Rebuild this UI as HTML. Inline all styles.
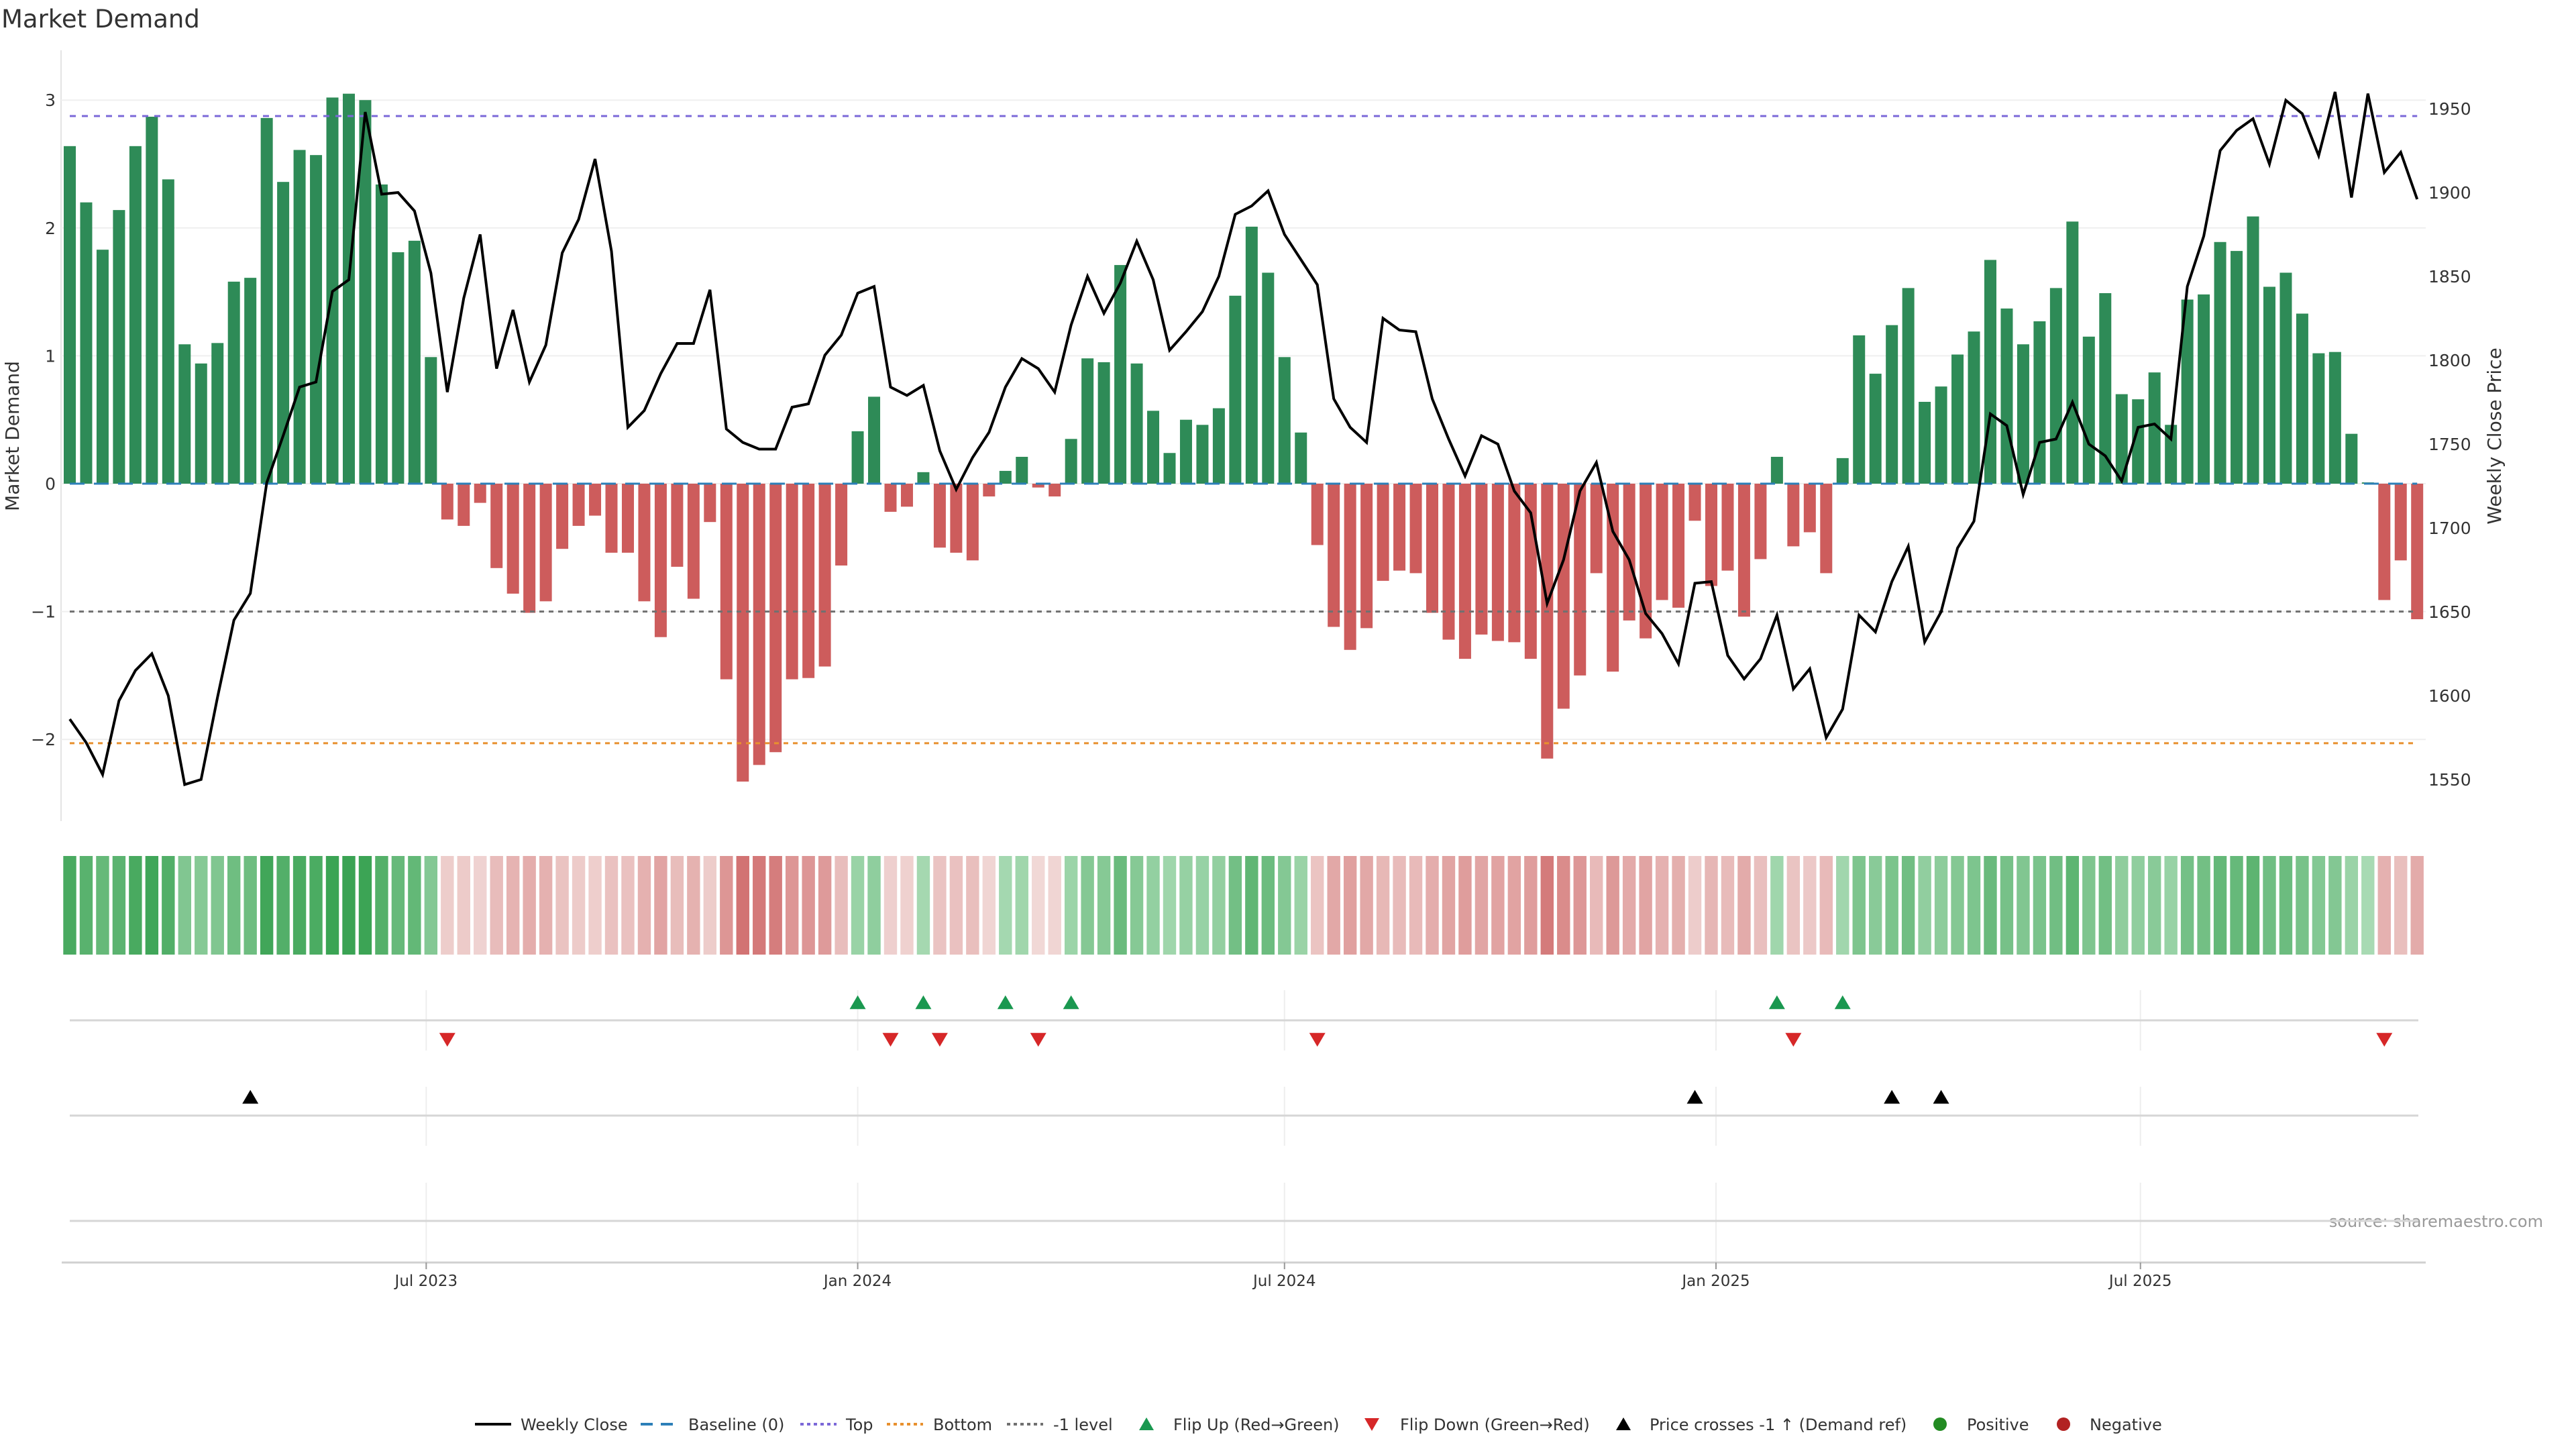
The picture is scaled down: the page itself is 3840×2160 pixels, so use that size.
<!DOCTYPE html>
<html><head><meta charset="utf-8"><style>
html,body{margin:0;padding:0;background:#fff;}
svg{display:block;font-family:"DejaVu Sans","Liberation Sans",sans-serif;}
</style></head><body>
<svg id="chart" width="3840" height="2160" viewBox="0 0 3840 2160" xmlns="http://www.w3.org/2000/svg">
<text x="2" y="41" font-size="37" fill="#333">Market Demand</text>
<text transform="translate(28,650) rotate(-90)" font-size="28" fill="#333" text-anchor="middle">Market Demand</text>
<text transform="translate(3728,650) rotate(-90)" font-size="28" fill="#333" text-anchor="middle">Weekly Close Price</text>
<text x="3791" y="1829" font-size="24" fill="#999" text-anchor="end">source: sharemaestro.com</text>
<g id="main"></g>
<g id="heat"></g>
<g id="markers"></g>
<g id="xaxis"></g>
<g id="legend"></g>
</svg>
<script>
const demand = [2.64,2.2,1.83,2.14,2.64,2.87,2.38,1.09,0.94,1.1,1.58,1.61,2.86,2.36,2.61,2.57,3.02,3.05,3.0,2.34,1.81,1.9,0.99,
-0.28,-0.33,-0.15,-0.66,-0.86,-1.01,-0.92,-0.51,-0.33,-0.25,-0.54,-0.54,-0.92,-1.2,-0.65,-0.9,-0.3,-1.53,-2.33,-2.2,-2.1,-1.53,-1.52,-1.43,-0.64,
0.41,0.68,-0.22,-0.18,0.09,-0.5,-0.54,-0.6,-0.1,0.1,0.21,-0.03,-0.1,0.35,0.98,0.95,1.71,0.94,0.57,0.24,0.5,0.46,0.59,1.47,2.01,1.65,0.99,0.4,
-0.48,-1.12,-1.3,-1.13,-0.76,-0.68,-0.7,-1.01,-1.22,-1.37,-1.18,-1.23,-1.24,-1.37,-2.15,-1.76,-1.5,-0.7,-1.47,-1.07,-1.21,-0.91,-0.97,-0.29,-0.8,-0.68,-1.04,-0.59,
0.21,-0.49,-0.38,-0.7,0.2,1.16,0.86,1.24,1.53,0.64,0.76,1.01,1.19,1.75,1.37,1.09,1.27,1.53,2.05,1.15,1.49,0.7,0.66,0.87,0.46,1.44,1.48,1.89,1.82,2.09,1.54,1.65,1.33,1.02,1.03,0.39,0.01,-0.91,-0.6,-1.06];
const price = [1586,1572,1553,1597,1615,1625,1600,1547,1550,1599,1645,1661,1727,1755,1784,1787,1841,1848,1948,1899,1900,1889,1852,1781,1837,1875,1795,1830,1787,1809,1864,1884,1920,1865,1760,1770,1792,1810,1810,1842,1759,1751,1747,1747,1772,1774,1803,1815,1840,1844,1784,1779,1785,1746,1723,1742,1757,1784,1801,1795,1781,1821,1850,1828,1846,1871,1848,1806,1817,1829,1850,1887,1892,1901,1875,1860,1845,1777,1760,1751,1825,1818,1817,1777,1753,1731,1755,1750,1722,1709,1655,1681,1722,1739,1698,1681,1649,1637,1619,1667,1668,1624,1610,1622,1648,1604,1616,1575,1592,1648,1638,1668,1689,1632,1650,1688,1704,1768,1761,1720,1751,1753,1775,1750,1743,1728,1760,1762,1753,1844,1874,1925,1937,1944,1917,1955,1947,1922,1960,1897,1959,1912,1924,1896];
const priceCrossIdx = [11,99,111,114];
const leftTicks = [3,2,1,0,-1,-2];
const rightTicks = [1550,1600,1650,1700,1750,1800,1850,1900,1950];
const xTickLabels = ["Jul 2023","Jan 2024","Jul 2024","Jan 2025","Jul 2025"];
const xTickDates = ["2023-07-01","2024-01-01","2024-07-01","2025-01-01","2025-07-01"];
const levelTop = 2.875, levelBottom = -2.03, levelMinus1 = -1;
const startDate = "2023-01-30";

const NS="http://www.w3.org/2000/svg";
function mk(tag, attrs, parent){const e=document.createElementNS(NS,tag);for(const k in attrs)e.setAttribute(k,attrs[k]);parent.appendChild(e);return e;}
const X0=104, DX=24.47;
const xi = i => X0 + DX*i;
const xDate = d => X0 + DX*((new Date(d) - new Date(startDate))/(7*86400000));
const yL = v => 721 - v*190.6;
const yR = p => 162 + (1950-p)*2.5;
const PL=91, PR=3616, PT=75, PB=1224;

const main=document.getElementById('main');
let sp=mk('line',{x1:PL,y1:PT,x2:PL,y2:PB,stroke:'#e4e4e4','stroke-width':2},main);


leftTicks.forEach(t=>{
  const g=mk('line',{x1:PL,x2:PR,y1:yL(t),y2:yL(t),stroke:'#efefef','stroke-width':2},main);
  
  
  const tx=mk('text',{x:83,y:yL(t)+9,'font-size':25,fill:'#333','text-anchor':'end'},main);
  tx.textContent = t<0 ? '\u2212'+Math.abs(t) : String(t);
  
  
});
rightTicks.forEach(t=>{
  const tx=mk('text',{x:3620,y:yR(t)+9,'font-size':25,fill:'#333'},main);
  tx.textContent=String(t);
  
  
});
demand.forEach((v,i)=>{
  const y0=yL(0), y1=yL(v);
  const r=mk('rect',{x:xi(i)-9,y:Math.min(y0,y1),width:18,height:Math.max(1,Math.abs(y1-y0)),fill:v>=0?'#2e8b57':'#cd5c5c'},main);
  
  
});
function hline(v,color,dash,name){
  const l=mk('line',{x1:X0,x2:xi(demand.length-1),y1:yL(v),y2:yL(v),stroke:color,'stroke-width':3,'stroke-dasharray':dash},main);
  
  
}
hline(levelTop,'#7b68d8','9,9','top-level-line');
hline(levelBottom,'#e8902e','7,7','bottom-level-line');
hline(levelMinus1,'#707070','7,7','minus1-level-line');
hline(0,'#2c7fb8','22,14','baseline-line');
const pl=mk('polyline',{points:price.map((p,i)=>xi(i)+','+yR(p)).join(' '),fill:'none',stroke:'#000','stroke-width':4,'stroke-linejoin':'miter'},main);



const heat=document.getElementById('heat');
function mix(a,b,t){return 'rgb('+a.map((c,k)=>Math.round(c+(b[k]-c)*t)).join(',')+')';}
demand.forEach((v,i)=>{
  let c;
  if(v>=0){c=mix([168,218,179],[58,163,83],Math.min(1,v/3.05));}
  else{c=mix([241,217,215],[210,115,115],Math.min(1,-v/2.33));}
  const r=mk('rect',{x:xi(i)-9.7,y:1276,width:19.4,height:147,fill:c},heat);
  
  
});

const mkr=document.getElementById('markers');
[[1476,1566],[1620,1708],[1763,1882]].forEach(seg=>{
  xTickDates.forEach(d=>{
    const l=mk('line',{x1:xDate(d),x2:xDate(d),y1:seg[0],y2:seg[1],stroke:'#eeeeee','stroke-width':2},mkr);
    
    
  });
});
[1521,1663,1820].forEach(y=>{
  const l=mk('line',{x1:X0,x2:3605,y1:y,y2:y,stroke:'#d6d6d6','stroke-width':3},mkr);
  
  
});
function tri(x,y,up,color,name){
  const s=12;
  const pts=up?[[x-s,y+s*0.85],[x+s,y+s*0.85],[x,y-s*0.85]]:[[x-s,y-s*0.85],[x+s,y-s*0.85],[x,y+s*0.85]];
  const p=mk('polygon',{points:pts.map(q=>q.join(',')).join(' '),fill:color},mkr);
  
  
}
for(let i=1;i<demand.length;i++){
  if(demand[i-1]<0 && demand[i]>=0) tri(xi(i),1494,true,'#1a9850','flip-up-marker');
  if(demand[i-1]>=0 && demand[i]<0) tri(xi(i),1550,false,'#d62728','flip-down-marker');
}
priceCrossIdx.forEach(i=>tri(xi(i),1635,true,'#000','price-cross-marker'));

const xa=document.getElementById('xaxis');
const al=mk('line',{x1:92,x2:3616,y1:1882,y2:1882,stroke:'#d0d0d0','stroke-width':3},xa);


xTickDates.forEach((d,k)=>{
  const t=mk('line',{x1:xDate(d),x2:xDate(d),y1:1882,y2:1892,stroke:'#999','stroke-width':2},xa);
  
  
  const tx=mk('text',{x:xDate(d),y:1917,'font-size':23,fill:'#333','text-anchor':'middle'},xa);
  tx.textContent=xTickLabels[k];
  
  
});

const lg=document.getElementById('legend');
const LY=2123;
function ltext(x,s){const t=mk('text',{x:x,y:LY+9,'font-size':24,fill:'#333'},lg);t.textContent=s;}
function lline(x1,color,w,dash){const l=mk('line',{x1:x1,x2:x1+54,y1:LY,y2:LY,stroke:color,'stroke-width':w,'stroke-dasharray':dash},lg);}
lline(708,'#000',4,'none');ltext(776,'Weekly Close');
lline(955,'#2c7fb8',4,'18,12');ltext(1026,'Baseline (0)');
lline(1193,'#7b68d8',4,'5,5');ltext(1261,'Top');
lline(1322,'#e8902e',4,'5,5');ltext(1391,'Bottom');
lline(1501,'#707070',4,'5,5');ltext(1570,'-1 level');
function ltri(x,up,color){const s=11;const pts=up?[[x-s,LY+9],[x+s,LY+9],[x,LY-10]]:[[x-s,LY-9],[x+s,LY-9],[x,LY+10]];const p=mk('polygon',{points:pts.map(q=>q.join(',')).join(' '),fill:color},lg);}
ltri(1709,true,'#1a9850');ltext(1749,'Flip Up (Red\u2192Green)');
ltri(2045,false,'#d62728');ltext(2087,'Flip Down (Green\u2192Red)');
ltri(2420,true,'#000');ltext(2459,'Price crosses -1 \u2191 (Demand ref)');
let c1=mk('circle',{cx:2892,cy:LY,r:10,fill:'#228b22'},lg);ltext(2932,'Positive');
let c2=mk('circle',{cx:3076,cy:LY,r:10,fill:'#b22222'},lg);ltext(3115,'Negative');
</script>
</body></html>
